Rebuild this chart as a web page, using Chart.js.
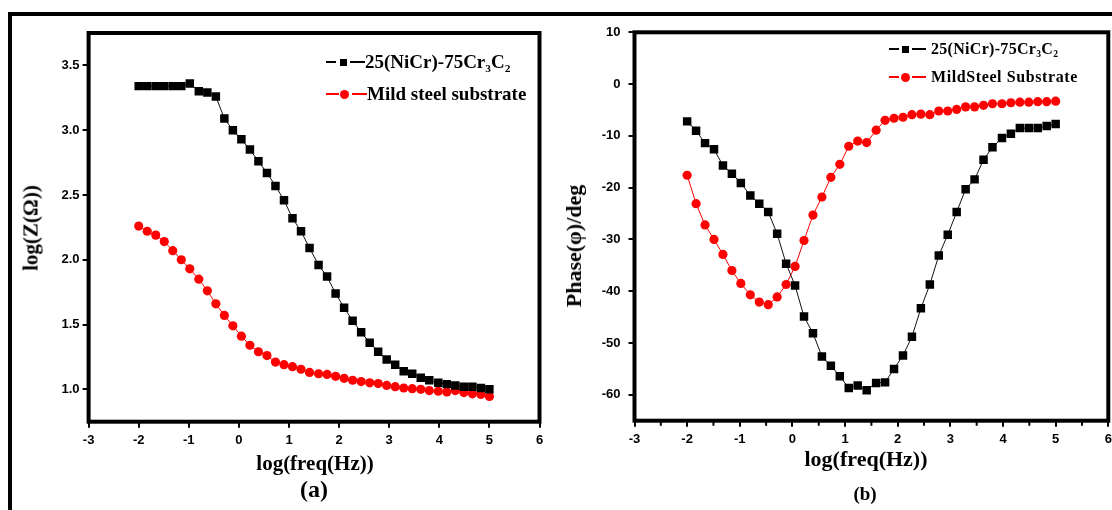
<!DOCTYPE html>
<html>
<head>
<meta charset="utf-8">
<script src="https://cdn.jsdelivr.net/npm/chart.js@4.4.1/dist/chart.umd.min.js"></script>
<style>
  html, body { margin: 0; padding: 0; background: #fff; width: 1112px; height: 510px; overflow: hidden; position: relative; }
  #frame { position: absolute; left: 8px; top: 12px; width: 1200px; height: 600px; border-left: 4px solid #000; border-top: 4px solid #000; }
  .panel { position: absolute; top: 0; width: 560px; height: 510px; }
  .txt { position: absolute; font-family: "Liberation Serif", "Times New Roman", serif; font-weight: bold; color: #000; white-space: nowrap; line-height: 1; }
  .rot { transform: translate(-50%, -50%) rotate(-90deg); }
  .ctr { transform: translate(-50%, -50%); }
  .leg { position: absolute; display: flex; align-items: center; font-family: "Liberation Serif", "Times New Roman", serif; font-weight: bold; white-space: nowrap; transform: translateY(-50%); }
  .seg { display: inline-block; height: 1.5px; }
  .sq { display: inline-block; width: 7px; height: 7px; background: #000; }
  .dot { display: inline-block; width: 9px; height: 9px; border-radius: 50%; background: #f00; }
  sub { font-size: 60%; vertical-align: -0.35em; line-height: 0; }
</style>
</head>
<body>
<div id="frame"></div>
<div class="panel" style="left:0"><canvas id="chartA"></canvas></div>
<div class="panel" style="left:560px"><canvas id="chartB"></canvas></div>

<!-- axis titles and panel captions -->
<div class="txt rot" style="left:31px; top:228px; font-size:21px;">log(Z(Ω))</div>
<div class="txt ctr" style="left:315px; top:463px; font-size:21px;">log(freq(Hz))</div>
<div class="txt ctr" style="left:314px; top:489px; font-size:24px;">(a)</div>
<div class="txt rot" style="left:574px; top:246px; font-size:22px;">Phase(φ)/deg</div>
<div class="txt ctr" style="left:866px; top:459px; font-size:22px;">log(freq(Hz))</div>
<div class="txt ctr" style="left:865px; top:493px; font-size:19px;">(b)</div>

<!-- legends -->
<div class="leg" style="left:326px; top:62px; font-size:19px;">
  <span class="seg" style="width:10px;background:#000"></span>
  <span class="sq" style="margin:0 3px 0 4px"></span>
  <span class="seg" style="width:15px;background:#000"></span>
  <span style="margin-left:0">25(NiCr)-75Cr<sub>3</sub>C<sub>2</sub></span>
</div>
<div class="leg" style="left:326px; top:94px; font-size:19px;">
  <span class="seg" style="width:13px;background:#f00"></span>
  <span class="dot" style="margin:0 3px 0 1px"></span>
  <span class="seg" style="width:15px;background:#f00"></span>
  <span style="margin-left:0">Mild steel substrate</span>
</div>
<div class="leg" style="left:889px; top:49px; font-size:16px;">
  <span class="seg" style="width:10px;background:#000"></span>
  <span class="sq" style="margin:0 3px"></span>
  <span class="seg" style="width:14px;background:#000"></span>
  <span style="margin-left:5px; letter-spacing:0.3px">25(NiCr)-75Cr<sub>3</sub>C<sub>2</sub></span>
</div>
<div class="leg" style="left:889px; top:77px; font-size:16px;">
  <span class="seg" style="width:10px;background:#f00"></span>
  <span class="dot" style="margin:0 2px"></span>
  <span class="seg" style="width:14px;background:#f00"></span>
  <span style="margin-left:5px; letter-spacing:0.6px">MildSteel Substrate</span>
</div>

<script>
// frequency points, log10(Hz)
const logFreq = [-2.00, -1.83, -1.66, -1.49, -1.32, -1.15, -0.98, -0.80, -0.63, -0.46,
                 -0.29, -0.12, 0.05, 0.22, 0.39, 0.56, 0.73, 0.90, 1.07, 1.24,
                 1.41, 1.59, 1.76, 1.93, 2.10, 2.27, 2.44, 2.61, 2.78, 2.95,
                 3.12, 3.29, 3.46, 3.63, 3.80, 3.98, 4.15, 4.32, 4.49, 4.66,
                 4.83, 5.00];

// log|Z| (ohm)
const zCoating = [3.34, 3.34, 3.34, 3.34, 3.34, 3.34, 3.36, 3.30, 3.29, 3.26,
                  3.09, 3.00, 2.93, 2.85, 2.76, 2.67, 2.57, 2.46, 2.32, 2.22,
                  2.09, 1.96, 1.87, 1.74, 1.63, 1.53, 1.44, 1.36, 1.29, 1.23,
                  1.19, 1.14, 1.12, 1.09, 1.07, 1.05, 1.04, 1.03, 1.02, 1.02,
                  1.01, 1.00];
const zSteel = [2.26, 2.22, 2.19, 2.14, 2.07, 2.00, 1.93, 1.85, 1.76, 1.66,
                1.57, 1.49, 1.41, 1.34, 1.29, 1.26, 1.21, 1.19, 1.175, 1.155,
                1.13, 1.12, 1.115, 1.10, 1.085, 1.07, 1.06, 1.05, 1.045, 1.03,
                1.02, 1.01, 1.005, 1.00, 0.99, 0.985, 0.98, 0.99, 0.975, 0.965,
                0.96, 0.945];

// phase angle (deg)
const phaseCoating = [-7.2, -9.0, -11.4, -12.6, -15.7, -17.3, -19.1, -21.5, -23.1, -24.7,
                      -28.9, -34.7, -38.9, -44.9, -48.1, -52.6, -54.4, -56.4, -58.7, -58.2,
                      -59.1, -57.7, -57.6, -55.0, -52.4, -48.8, -43.3, -38.7, -33.1, -29.1,
                      -24.7, -20.3, -18.4, -14.6, -12.2, -10.4, -9.6, -8.5, -8.5, -8.5,
                      -8.1, -7.7];
const phaseSteel = [-17.6, -23.1, -27.2, -30.0, -32.9, -36.0, -38.5, -40.7, -42.1, -42.6,
                    -41.1, -38.7, -35.2, -30.2, -25.3, -21.8, -18.0, -15.5, -12.0, -11.0,
                    -11.3, -8.9, -7.0, -6.6, -6.4, -5.9, -5.8, -5.9, -5.2, -5.2,
                    -4.9, -4.4, -4.4, -4.1, -3.8, -3.8, -3.6, -3.5, -3.5, -3.4,
                    -3.4, -3.3];

// axis ticks
const xTicks = [-3, -2, -1, 0, 1, 2, 3, 4, 5, 6];
const xMinorTicks = [-2.5, -1.5, -0.5, 0.5, 1.5, 2.5, 3.5, 4.5, 5.5];
const zTicks = [1.0, 1.5, 2.0, 2.5, 3.0, 3.5];
const phaseTicks = [-60, -50, -40, -30, -20, -10, 0, 10];

const tickFont = { family: '"Liberation Sans", Arial, sans-serif', weight: 'bold', size: 13 };

const toPoints = ys => ys.map((y, i) => ({ x: logFreq[i], y: y }));

// thick box round the plot area plus optional minor ticks on the x axis
const boxPlugin = {
  id: 'box',
  afterDraw(chart, args, opts) {
    const { ctx, chartArea: a } = chart;
    ctx.save();
    ctx.strokeStyle = '#000';
    ctx.lineWidth = 4;
    ctx.strokeRect(a.left, a.top, a.right - a.left, a.bottom - a.top);
    if (opts.minor) {
      const xs = chart.scales.x;
      ctx.lineWidth = 2;
      ctx.beginPath();
      opts.minor.forEach(v => {
        const px = xs.getPixelForValue(v);
        ctx.moveTo(px, a.bottom);
        ctx.lineTo(px, a.bottom + 5);
      });
      ctx.stroke();
    }
    ctx.restore();
  }
};

function tickGrid() {
  return { drawOnChartArea: false, drawTicks: true, tickLength: 6, lineWidth: 2, color: '#000' };
}

function makeChart(id, opt) {
  const canvas = document.getElementById(id);
  canvas.width = 560;
  canvas.height = 510;
  return new Chart(canvas, {
    type: 'line',
    data: {
      datasets: [
        {
          data: toPoints(opt.black),
          borderColor: '#111', borderWidth: 1,
          pointStyle: 'rect', pointRadius: 6, pointHoverRadius: 6,
          pointBackgroundColor: '#000', pointBorderColor: '#000', pointBorderWidth: 0,
          tension: 0
        },
        {
          data: toPoints(opt.red),
          borderColor: '#f00', borderWidth: 1,
          pointStyle: 'circle', pointRadius: 4.6, pointHoverRadius: 4.6,
          pointBackgroundColor: '#f00', pointBorderColor: '#f00', pointBorderWidth: 0,
          tension: 0
        }
      ]
    },
    options: {
      responsive: false,
      animation: false,
      events: [],
      layout: { padding: opt.padding },
      plugins: { legend: { display: false }, tooltip: { enabled: false }, box: { minor: opt.minor } },
      scales: {
        x: {
          type: 'linear', min: -3, max: 6,
          afterBuildTicks: s => { s.ticks = xTicks.map(v => ({ value: v })); },
          afterFit: s => { s.height = opt.xHeight; },
          grid: tickGrid(),
          border: { display: false },
          ticks: { color: '#000', font: tickFont, padding: 5, maxRotation: 0, autoSkip: false, callback: v => String(v) }
        },
        y: {
          type: 'linear', min: opt.yMin, max: opt.yMax,
          afterBuildTicks: s => { s.ticks = opt.yTicks.map(v => ({ value: v })); },
          afterFit: s => { s.width = opt.yWidth; },
          grid: tickGrid(),
          border: { display: false },
          ticks: { color: '#000', font: tickFont, padding: opt.yPad, autoSkip: false, callback: opt.yFmt }
        }
      }
    },
    plugins: [boxPlugin]
  });
}

makeChart('chartA', {
  black: zCoating, red: zSteel,
  yMin: 0.75, yMax: 3.75, yTicks: zTicks, yFmt: v => v.toFixed(1), yPad: 3,
  padding: { left: 0, top: 33, right: 20.5, bottom: 0 },
  yWidth: 88.6, xHeight: 88.3
});

makeChart('chartB', {
  black: phaseCoating, red: phaseSteel,
  yMin: -65, yMax: 10, yTicks: phaseTicks, yFmt: v => String(v), yPad: 8,
  padding: { left: 0, top: 32.3, right: 11.7, bottom: 0 },
  yWidth: 74.5, xHeight: 89.3,
  minor: xMinorTicks
});
</script>
</body>
</html>
